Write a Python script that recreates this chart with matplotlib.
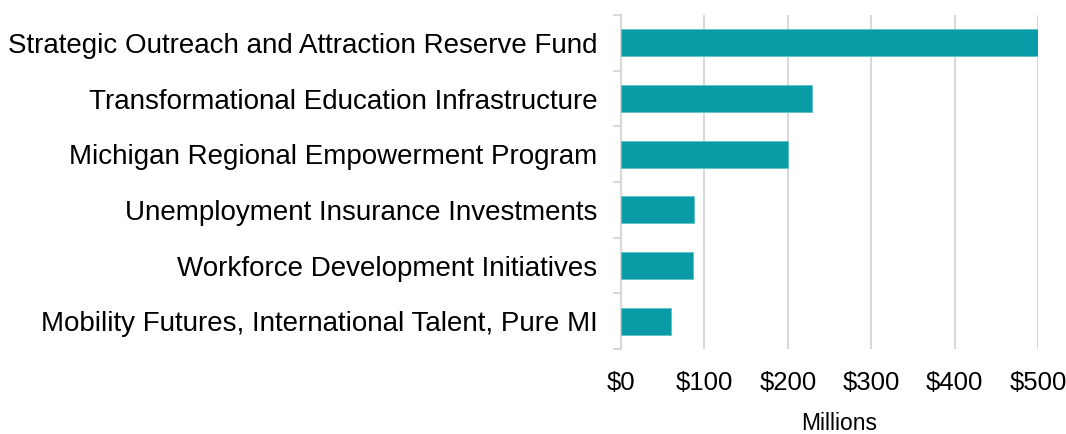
import numpy as np
import matplotlib.pyplot as plt
from matplotlib.ticker import FuncFormatter, MultipleLocator

plt.rcParams["font.family"] = ["Liberation Sans", "DejaVu Sans"]

categories = [
    "Strategic Outreach and Attraction Reserve Fund",
    "Transformational Education Infrastructure",
    "Michigan Regional Empowerment Program",
    "Unemployment Insurance Investments",
    "Workforce Development Initiatives",
    "Mobility Futures, International Talent, Pure MI",
]
values = [500, 229, 200, 88, 86, 60]

fig = plt.figure(figsize=(10.66, 4.34), dpi=100)
ax = fig.add_axes([621 / 1066, 1 - 349 / 434, 417 / 1066, 334 / 434])

y = np.arange(len(categories))
ax.barh(y, values, height=0.49, color="#099ca6", edgecolor="#5fc3c9", linewidth=0.6, zorder=3)
ax.set_ylim(len(categories) - 0.5, -0.5)
ax.set_xlim(0, 500)

ax.set_yticks(y)
ax.set_yticklabels(categories, fontsize=20)
ax.set_yticks(np.arange(len(categories) + 1) - 0.5, minor=True)
ax.tick_params(axis="y", which="major", length=0, pad=17)
ax.tick_params(axis="y", which="minor", length=6, width=1.5, color="#d9d9d9")

ax.xaxis.set_major_locator(MultipleLocator(100))
ax.xaxis.set_major_formatter(FuncFormatter(lambda v, p: f"${v:.0f}"))
ax.tick_params(axis="x", length=0, labelsize=18.5, pad=16)
ax.grid(axis="x", color="#d9d9d9", linewidth=1.5, zorder=0)

for s in ["top", "right", "bottom"]:
    ax.spines[s].set_visible(False)
ax.spines["left"].set_color("#d9d9d9")
ax.spines["left"].set_linewidth(1.5)

ax.set_xlabel("Millions", fontsize=16.5)
ax.xaxis.set_label_coords(0.523, -0.19)

fig.savefig("out.png", dpi=100)
